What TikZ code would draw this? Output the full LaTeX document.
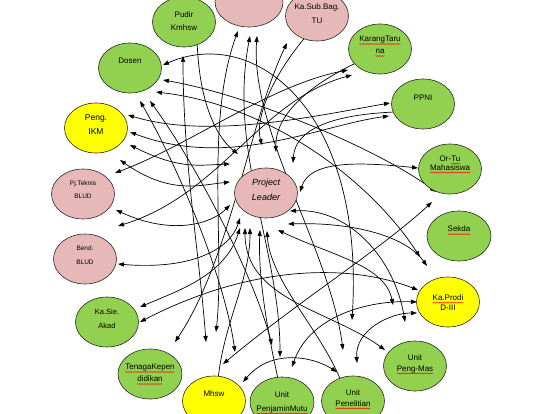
\documentclass[tikz,border=0pt]{standalone}
\usepackage{fontspec}
\setmainfont{Liberation Sans}
\usetikzlibrary{shapes.geometric,arrows.meta,decorations.pathmorphing}
\definecolor{gr}{RGB}{146,208,80}
\definecolor{yl}{RGB}{255,255,0}
\definecolor{pk}{RGB}{230,185,184}
\pgfdeclarelayer{bg}
\pgfsetlayers{bg,main}
\newsavebox\sqbox
\newlength\sqlen
\newcommand\sqw[1]{\sbox\sqbox{#1}\setlength\sqlen{\wd\sqbox}\leavevmode\rlap{\usebox\sqbox}\tikz[baseline=0pt,x=1pt,y=1pt]{\useasboundingbox (0,0) rectangle (\sqlen,0);\draw[red,line width=0.3pt,decorate,decoration={zigzag,amplitude=0.5pt,segment length=1.6pt}] (0,-2.3) -- (\sqlen,-2.3);}}
\tikzset{
  bub/.style={ellipse, draw=black!85, line width=0.6pt, minimum width=63pt, minimum height=50pt, inner sep=0pt},
  lbl/.style={inner sep=0pt, align=center, font=\fontsize{8}{13.5}\selectfont},
  tip/.tip={Triangle[length=6pt,width=4.2pt]},
  con/.style={line width=0.7pt, tip-tip},
  one/.style={line width=0.7pt, -tip},
}
\begin{document}
\begin{tikzpicture}[x=1pt,y=-1pt]
\useasboundingbox (0,0) rectangle (545,414);
% nodes
\node[bub,fill=pk,minimum width=68pt] (kt) at (249,2) {};
\node[bub,fill=gr,label={[lbl,yshift=1pt]center:{Pudir\\Kmhsw}}] (pudir) at (184,22) {};
\node[bub,fill=pk,label={[lbl,yshift=2.5pt]center:{Ka.Sub.Bag.\\TU}}] (ksub) at (317,16) {};
\node[bub,fill=gr,label={[lbl,yshift=4pt,font=\fontsize{8}{12}\selectfont]center:{\sqw{KarangTaru}\\\sqw{na}}}] (karang) at (380,49) {};
\node[bub,fill=gr,label={[lbl,yshift=6pt]center:{PPNI}}] (ppni) at (423,104) {};
\node[bub,fill=gr,label={[lbl,yshift=6pt,font=\fontsize{8}{9}\selectfont]center:{Or-\sqw{Tu}\\\sqw{Mahasiswa}}}] (ortu) at (450,169) {};
\node[bub,fill=gr,minimum width=64pt,label={[lbl,yshift=7pt]center:{\sqw{Sekda}}}] (sekda) at (459,236) {};
\node[bub,fill=yl,label={[lbl,yshift=-0.5pt,font=\fontsize{8}{10}\selectfont]center:{\sqw{Ka.Prodi}\\D-III}}] (prodi) at (448,302) {};
\node[bub,fill=gr,label={[lbl,yshift=2.5pt,font=\fontsize{8}{11}\selectfont]center:{Unit\\\sqw{Peng-Mas}}}] (pengmas) at (415,366) {};
\node[bub,fill=gr,label={[lbl,yshift=3pt,font=\fontsize{8}{10.5}\selectfont]center:{Unit\\\sqw{Penelitian}}}] (penel) at (353,401) {};
\node[bub,fill=gr,minimum width=64pt,label={[lbl,yshift=0pt,font=\fontsize{8}{14}\selectfont]center:{Unit\\\sqw{PenjaminMutu}}}] (penjamin) at (282,402) {};
\node[bub,fill=yl,label={[lbl,yshift=7pt]center:{Mhsw}}] (mhsw) at (214,401) {};
\node[bub,fill=gr,minimum width=64pt,label={[lbl,yshift=1pt,font=\fontsize{8}{12}\selectfont]center:{\sqw{TenagaKepen}\\\sqw{didikan}}}] (tenaga) at (150,374) {};
\node[bub,fill=gr,label={[lbl,yshift=3pt,font=\fontsize{7.5}{14}\selectfont]center:{Ka.Sie.\\Akad}}] (kasie) at (107,322) {};
\node[bub,fill=pk,label={[lbl,yshift=4pt,font=\fontsize{6.5}{14}\selectfont]center:{Bend.\\BLUD}}] (bend) at (85,259) {};
\node[bub,fill=pk,label={[lbl,yshift=4.5pt,font=\fontsize{6.5}{13}\selectfont]center:{Pj.Teknis\\BLUD}}] (pjtek) at (83,194) {};
\node[bub,fill=yl,label={[lbl,yshift=3pt,font=\fontsize{8.5}{14}\selectfont]center:{Peng.\\IKM}}] (ikm) at (96,128) {};
\node[bub,fill=gr,label={[lbl,yshift=7pt]center:{Dosen}}] (dosen) at (130,68) {};
\node[bub,fill=pk,label={[lbl,yshift=3.5pt,font=\itshape\fontsize{9}{15}\selectfont]center:{Project\\Leader}}] (pl) at (266,193) {};
% connector ends
\coordinate (a1) at (163,65);  \coordinate (a2) at (163,80);  \coordinate (a3) at (156,92);
\coordinate (a4) at (140,101); \coordinate (a5) at (150,101); \coordinate (b1) at (183,56);
\coordinate (c1) at (238,31);  \coordinate (c2) at (250,36);  \coordinate (c3) at (257,36);
\coordinate (d1) at (287,43);  \coordinate (e1) at (348,70);  \coordinate (e2) at (352,75);
\coordinate (f1) at (390,103); \coordinate (f2) at (389,116); \coordinate (g1) at (418,168);
\coordinate (g2) at (436,192); \coordinate (g3) at (432,202); \coordinate (h1) at (420,257);
\coordinate (h2) at (427,266); \coordinate (i1) at (418,290); \coordinate (i2) at (417,302);
\coordinate (i3) at (417,313); \coordinate (i4) at (393,305); \coordinate (i5) at (405,322);
\coordinate (j1) at (385,350); \coordinate (k1) at (337,372); \coordinate (k2) at (357,363);
\coordinate (k3) at (343,350); \coordinate (k4) at (352,320); \coordinate (l1) at (280,357);
\coordinate (l2) at (272,345); \coordinate (l3) at (292,367); \coordinate (m1) at (243,382);
\coordinate (m2) at (223,364); \coordinate (m3) at (235,352); \coordinate (n1) at (175,342);
\coordinate (n2) at (206,342); \coordinate (n3) at (216,332); \coordinate (o1) at (140,307);
\coordinate (o2) at (140,322); \coordinate (p1) at (118,264); \coordinate (q1) at (115,173);
\coordinate (q2) at (116,210); \coordinate (q3) at (118,226); \coordinate (r1) at (128,115);
\coordinate (r2) at (130,132); \coordinate (r3) at (130,145); \coordinate (r4) at (120,160);
\coordinate (s1) at (238,154); \coordinate (s2) at (262,145); \coordinate (s3) at (276,152);
\coordinate (s4) at (293,163); \coordinate (s5) at (230,164); \coordinate (s6) at (230,182);
\coordinate (s7) at (230,205); \coordinate (s8) at (240,218); \coordinate (s9) at (300,192);
\coordinate (s10) at (290,211); \coordinate (s11) at (288,224); \coordinate (s12) at (240,228);
\coordinate (s13) at (245,228); \coordinate (s14) at (250,228); \coordinate (s15) at (260,230);
\coordinate (s16) at (267,231); \coordinate (s17) at (278,230);
% connectors (behind the ellipses)
\begin{pgfonlayer}{bg}
\draw[con] (a1) .. controls (255,25) and (365,110) .. (k4);
\draw[con] (a2) .. controls (250,95) and (380,150) .. (g2);
\draw[con] (a3) .. controls (270,105) and (370,180) .. (h1);
\draw[con] (a4) .. controls (180,170) and (225,280) .. (m3);
\draw[con] (a5) .. controls (200,170) and (255,280) .. (l2);
\draw[con] (b1) .. controls (183,160) and (200,260) .. (n2);
\draw[con] (c1) .. controls (205,120) and (225,250) .. (n3);
\draw[con] (c2) .. controls (228,150) and (280,250) .. (l1);
\draw[con] (c3) .. controls (250,130) and (330,250) .. (k3);
\draw[con] (d1) .. controls (250,120) and (230,260) .. (n1);
\draw[con] (q1) .. controls (190,145) and (270,85) .. (e1);
\draw[con] (q3) .. controls (220,195) and (260,100) .. (e2);
\draw[con] (r1) .. controls (210,140) and (320,115) .. (f1);
\draw[con] (r2) .. controls (230,170) and (320,125) .. (f2);
\draw[con] (s9) .. controls (310,160) and (360,162) .. (g1);
\draw[con] (m2) .. controls (300,300) and (380,250) .. (g3);
\draw[con] (s11) .. controls (350,222) and (405,235) .. (h2);
\draw[con] (o2) .. controls (240,270) and (340,260) .. (i1);
\draw[con] (l3) .. controls (310,315) and (370,300) .. (i2);
\draw[con] (k2) .. controls (355,330) and (390,313) .. (i3);
\draw[con] (m1) .. controls (270,350) and (310,355) .. (k1);
\draw[con] (s10) .. controls (350,208) and (395,260) .. (i5);
\draw[con] (s17) .. controls (330,255) and (385,265) .. (i4);
\draw[con] (s12) .. controls (225,275) and (180,290) .. (o1);
\draw[con] (q2) .. controls (170,235) and (210,225) .. (s7);
\draw[con] (p1) .. controls (190,270) and (230,250) .. (s8);
\draw[con] (r3) .. controls (180,170) and (200,165) .. (s5);
\draw[con] (r4) .. controls (170,195) and (200,185) .. (s6);
\draw[con] (s13) .. controls (245,300) and (330,310) .. (j1);
\draw[one] (pudir.-60) .. controls (200,110) and (220,140) .. (s1);
\draw[one] (ksub.-120) .. controls (270,80) and (255,120) .. (s2);
\draw[one] (karang.-150) .. controls (300,90) and (275,120) .. (s3);
\draw[one] (ppni.-165) .. controls (330,115) and (295,130) .. (s4);
\draw[one] (mhsw.80) .. controls (225,320) and (250,280) .. (s14);
\draw[one] (penjamin.100) .. controls (265,320) and (258,270) .. (s15);
\draw[one] (penel.120) .. controls (320,330) and (270,280) .. (s16);
\end{pgfonlayer}
\end{tikzpicture}
\end{document}
